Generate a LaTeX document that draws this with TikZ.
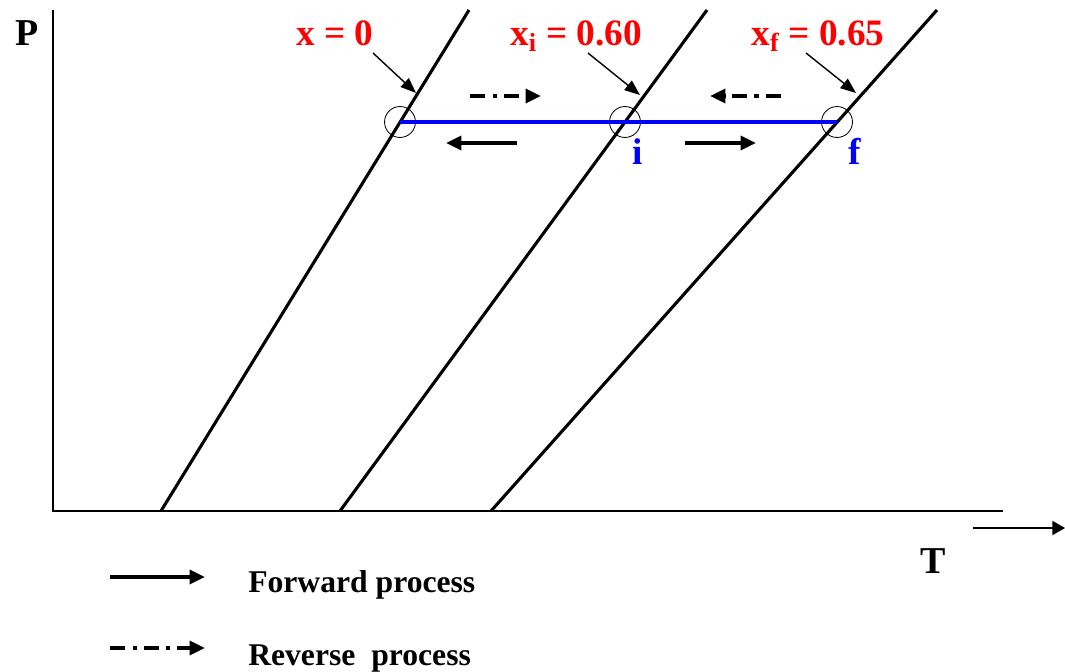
\documentclass[tikz,border=0pt]{standalone}
\usepackage{fontspec}
\setmainfont{Liberation Serif}
\usetikzlibrary{arrows.meta,positioning,calc}

\begin{document}
\begin{tikzpicture}[x=0.025cm, y=-0.025cm,
    axis/.style={line width=0.9pt},
    isoline/.style={line width=2.2pt},
    ring/.style={circle, draw, line width=0.6pt, minimum size=22pt, inner sep=0pt},
    pointer/.style={-{Triangle[length=11pt,width=8.5pt]}, line width=1pt},
    fwd/.style={-{Triangle[length=11pt,width=10pt]}, line width=2.5pt},
    rev/.style={fwd, dash pattern=on 11pt off 5pt on 3pt off 5pt},
    redlbl/.style={text=red, font=\bfseries\fontsize{26.5}{30}\selectfont, anchor=base, inner sep=0pt},
    bluelbl/.style={redlbl, text=blue},
    axlbl/.style={font=\bfseries\fontsize{27}{30}\selectfont, anchor=base, inner sep=0pt},
    legtext/.style={font=\bfseries\fontsize{22.5}{25}\selectfont, anchor=base west, inner sep=0pt}
]
\useasboundingbox (0,0) rectangle (1065,671);

% Axes
\coordinate (ytop) at (53,10);
\coordinate (orig) at (53,511);
\coordinate (xend) at (1003,511);
\draw[axis] (ytop) -- (orig) -- (xend);
\node[axlbl] (P) at (27,45) {P};
\node[axlbl] (T) at (933,573) {T};
\coordinate (ta) at (973,528);
\coordinate (tb) at (1065,528);
\draw[-{Triangle[length=9pt,width=10pt]}, line width=1.2pt] (ta) -- (tb);

% Lines of constant x
\coordinate (z0b) at (161,511);
\coordinate (z0t) at (469,10);
\coordinate (zib) at (340,511);
\coordinate (zit) at (707,10);
\coordinate (zfb) at (491,511);
\coordinate (zft) at (937,10);
\draw[isoline] (z0b) -- (z0t);
\draw[isoline] (zib) -- (zit);
\draw[isoline] (zfb) -- (zft);

% States on the line
\node[ring] (c0) at (400,122) {};
\node[ring] (ci) at (625,122) {};
\node[ring] (cf) at (837,122) {};
\draw[blue, line width=2.8pt] (c0.center) -- (cf.center);
\node[bluelbl] (li) at (638,164) {i};
\node[bluelbl] (lf) at (855,164) {f};

% Labels with pointers
\node[redlbl] (x0) at (335,45) {x = 0};
\node[redlbl] (xi) at (576,45) {x\textsubscript{i} = 0.60};
\node[redlbl] (xf) at (818,45) {x\textsubscript{f} = 0.65};
\coordinate (s0) at (373,53);
\coordinate (t0) at (416,93);
\coordinate (si) at (588,53);
\coordinate (ti) at (640,95);
\coordinate (sf) at (806,53);
\coordinate (tf) at (856,93);
\draw[pointer] (s0) -- (t0);
\draw[pointer] (si) -- (ti);
\draw[pointer] (sf) -- (tf);

% Process arrows
\coordinate (r1a) at (470,96);
\coordinate (r1b) at (541,96);
\coordinate (r2a) at (781,96);
\coordinate (r2b) at (710,96);
\coordinate (f1a) at (517,143);
\coordinate (f1b) at (446,143);
\coordinate (f2a) at (685,143);
\coordinate (f2b) at (756,143);
\draw[rev] (r1a) -- (r1b);
\draw[rev] (r2a) -- (r2b);
\draw[fwd] (f1a) -- (f1b);
\draw[fwd] (f2a) -- (f2b);

% Legend
\coordinate (lfa) at (110,577);
\coordinate (lfb) at (205,577);
\coordinate (lra) at (110,648);
\coordinate (lrb) at (205,648);
\draw[fwd] (lfa) -- (lfb);
\draw[rev] (lra) -- (lrb);
\node[legtext] (fwdtxt) at (248,592) {Forward process};
\node[legtext] (revtxt) at (248,665) {Reverse\ \ process};

\end{tikzpicture}
\end{document}
